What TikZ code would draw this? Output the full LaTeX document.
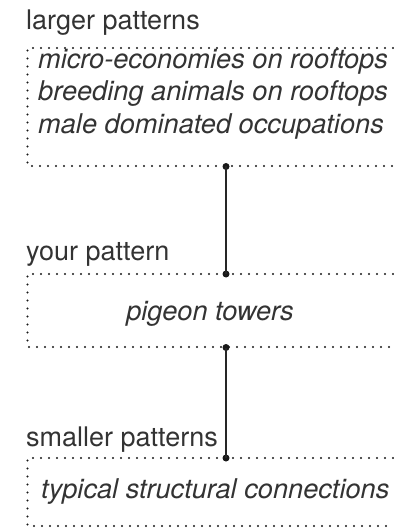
\documentclass[tikz,border=0pt]{standalone}
\usepackage{fontspec}
\setmainfont{TeX Gyre Heros}
\begin{document}
\begin{tikzpicture}[x=1pt,y=-1pt,
  lbl/.style={anchor=base west,inner sep=0pt,font=\fontsize{27}{33}\selectfont,text=black!80},
  itl/.style={inner sep=0pt,font=\fontsize{27.2}{33}\selectfont\itshape,text=black!80},
  dotline/.style={line width=2.4pt,line cap=round,dash pattern=on 0pt off 8pt,black!90},
  conn/.style={line width=1.5pt,black!85},
  jdot/.style={circle,fill=black!90,inner sep=0pt,minimum size=7pt}]
\useasboundingbox (0,0) rectangle (393,529);
% labels
\node[lbl] (l1) at (26,30) {larger patterns};
\node[lbl] (l2) at (26,260.5) {your pattern};
\node[lbl] (l3) at (26,446.5) {smaller patterns};
% boxes
\draw[dotline] (393,48) -- (27.5,48) -- (27.5,166) -- (393,166);
\draw[dotline] (393,274) -- (27.5,274) -- (27.5,347) -- (393,347);
\draw[dotline] (393,458) -- (27.5,458) -- (27.5,526) -- (393,526);
% texts
\node[itl,anchor=base west] (t1) at (38,68.3) {micro-economies on rooftops};
\node[itl,anchor=base west] (t2) at (38,101) {breeding animals on rooftops};
\node[itl,anchor=base west] (t3) at (38,134) {male dominated occupations};
\node[itl,anchor=base] (t4) at (210,320) {pigeon towers};
\node[itl,anchor=base west] (t5) at (41,498) {typical structural connections};
% connectors
\node[jdot] (a1) at (226,166.5) {};
\node[jdot] (a2) at (226,274) {};
\node[jdot] (b1) at (226,347.5) {};
\node[jdot] (b2) at (226,458) {};
\draw[conn] (a1.center) -- (a2.center);
\draw[conn] (b1.center) -- (b2.center);
\end{tikzpicture}
\end{document}
